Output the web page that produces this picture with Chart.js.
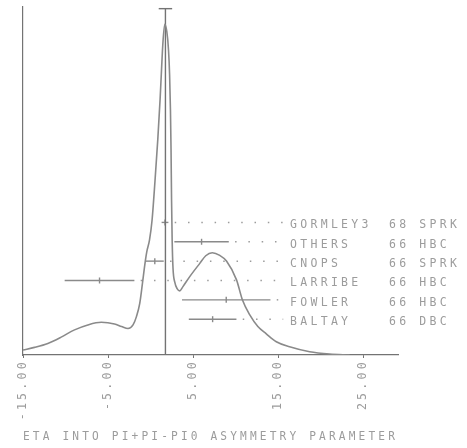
<!DOCTYPE html>
<html>
<head>
<meta charset="utf-8">
<script src="https://cdn.jsdelivr.net/npm/chart.js@4/dist/chart.umd.min.js"></script>
<style>
  html, body { margin: 0; padding: 0; background: #fff; }
  canvas { display: block; }
</style>
</head>
<body>
<canvas id="chart" width="467" height="448"></canvas>
<script>
// Ideogram curve: asymmetry parameter vs. relative height
const curveX = [-15.00, -13.65, -12.08, -10.51, -8.94, -7.38, -5.80, -4.24, -3.41, -2.65,
                -2.06, -1.66, -1.27, -0.95, -0.68, -0.45, -0.12, 0.18, 0.53, 0.85,
                1.12, 1.29, 1.44, 1.67, 1.91, 2.11, 2.24, 2.34, 2.41, 2.47,
                2.54, 2.64, 2.85, 3.14, 3.44, 3.79, 4.61, 5.79, 6.49, 7.26,
                8.14, 8.93, 10.11, 10.81, 11.67, 12.62, 13.61, 14.79, 16.35, 18.71, 21.06, 23.41];
const curveY = [0.015, 0.023, 0.035, 0.054, 0.076, 0.091, 0.099, 0.094, 0.086, 0.080,
                0.091, 0.116, 0.156, 0.217, 0.272, 0.311, 0.348, 0.408, 0.529, 0.651,
                0.772, 0.862, 0.938, 1.000, 0.978, 0.923, 0.847, 0.741, 0.620, 0.469,
                0.348, 0.263, 0.220, 0.200, 0.194, 0.206, 0.237, 0.277, 0.300, 0.309,
                0.301, 0.284, 0.227, 0.166, 0.121, 0.086, 0.064, 0.040, 0.025, 0.010, 0.003, 0.000];

// Individual measurements, top to bottom
const experiments = ['GORMLEY3', 'OTHERS', 'CNOPS', 'LARRIBE', 'FOWLER', 'BALTAY'];
const years       = ['68', '66', '66', '66', '66', '66'];
const detectors   = ['SPRK', 'HBC', 'SPRK', 'HBC', 'HBC', 'DBC'];
const values      = [1.7, 6.0, 0.5, -6.0, 8.9, 7.3];
const errors      = [0.4, 3.2, 1.05, 4.1, 5.2, 2.8];

// Weighted average
const average = 1.75;
const averageError = 0.79;

// Axis ticks
const tickValues = [-15, -5, 5, 15, 25];
const axisTitle = 'ETA INTO PI+PI-PI0 ASYMMETRY PARAMETER';

// ---- drawing ----
const INK = '#737373';
const LINE = '#8a8a8a';
const TEXT = '#9c9c9c';
const FONT_FAMILY = '"DejaVu Sans Mono", monospace';
const FONT_SIZE = 11.5;
const SPACING = '3.3px';
const AVG_TOP = 1.047;     // top of the average marker, in curve units
const LEADER_END = 15.6;   // where the dotted leaders stop
const NAME_AT = 16.4;      // text columns, in axis units
const YEAR_AT = 28.05;
const DET_AT = 31.6;

const rowOf = experiments.map((_, i) => experiments.length - i);

const datasets = [];

datasets.push({
  label: 'ideogram',
  data: curveX.map((x, i) => ({ x, y: curveY[i] })),
  borderColor: LINE,
  borderWidth: 1.6,
  pointRadius: 0,
  cubicInterpolationMode: 'monotone',
  yAxisID: 'y'
});

datasets.push({
  label: 'average',
  data: [{ x: average, y: 0 }, { x: average, y: AVG_TOP }],
  borderColor: INK,
  borderWidth: 1.4,
  pointRadius: 0,
  tension: 0,
  yAxisID: 'y'
});

datasets.push({
  label: 'average error',
  data: [{ x: average - averageError, y: AVG_TOP }, { x: average + averageError, y: AVG_TOP }],
  borderColor: INK,
  borderWidth: 1.4,
  pointRadius: 0,
  tension: 0,
  yAxisID: 'y'
});

experiments.forEach((name, i) => {
  const r = rowOf[i];
  const lo = values[i] - errors[i];
  const hi = values[i] + errors[i];
  datasets.push({
    label: name,
    data: [{ x: lo, y: r }, { x: values[i], y: r }, { x: hi, y: r }],
    borderColor: LINE,
    borderWidth: 1.4,
    pointRadius: [0, 3, 0],
    pointStyle: 'line',
    pointRotation: 90,
    pointBorderColor: LINE,
    pointBorderWidth: 1.4,
    tension: 0,
    yAxisID: 'yRows'
  });
  datasets.push({
    label: name + ' leader',
    data: [{ x: hi, y: r }, { x: LEADER_END, y: r }],
    borderColor: TEXT,
    borderWidth: 1.5,
    borderDash: [1.5, 11.8],
    borderDashOffset: 7,
    pointRadius: 0,
    tension: 0,
    yAxisID: 'yRows'
  });
});

const spacingPlugin = {
  id: 'letterSpacing',
  beforeDraw(chart) { chart.ctx.letterSpacing = SPACING; }
};

const rowLabels = {
  id: 'rowLabels',
  afterDatasetsDraw(chart) {
    const { ctx, scales } = chart;
    const x = scales.x, rows = scales.yRows;
    ctx.save();
    ctx.letterSpacing = SPACING;
    ctx.font = FONT_SIZE + 'px ' + FONT_FAMILY;
    ctx.fillStyle = TEXT;
    ctx.textAlign = 'left';
    ctx.textBaseline = 'alphabetic';
    experiments.forEach((name, i) => {
      const y = rows.getPixelForValue(rowOf[i]) + 6;
      ctx.fillText(name, x.getPixelForValue(NAME_AT), y);
      ctx.fillText(years[i], x.getPixelForValue(YEAR_AT), y);
      ctx.fillText(detectors[i], x.getPixelForValue(DET_AT), y);
    });
    ctx.restore();
  }
};

new Chart(document.getElementById('chart'), {
  type: 'line',
  data: { datasets },
  options: {
    responsive: false,
    devicePixelRatio: 1,
    animation: false,
    layout: { padding: { top: 7, right: 69, left: 0, bottom: 0 } },
    plugins: { legend: { display: false }, tooltip: { enabled: false } },
    scales: {
      x: {
        type: 'linear',
        min: -15,
        max: 29.1,
        afterBuildTicks(scale) { scale.ticks = tickValues.map(v => ({ value: v })); },
        afterFit(scale) { scale.height = 93; },
        ticks: {
          minRotation: 90,
          maxRotation: 90,
          padding: 1,
          color: TEXT,
          font: { family: FONT_FAMILY, size: FONT_SIZE },
          callback: v => Number(v).toFixed(2)
        },
        grid: { drawOnChartArea: false, drawTicks: true, tickLength: 3, color: INK },
        border: { display: true, color: INK, width: 1.2 },
        title: {
          display: true,
          text: axisTitle,
          color: TEXT,
          font: { family: FONT_FAMILY, size: 11.8 },
          padding: { top: 0, bottom: 4 }
        }
      },
      y: {
        type: 'linear',
        min: 0,
        max: 1.052,
        afterFit(scale) { scale.width = 23; },
        ticks: { display: false },
        grid: { display: false },
        border: { display: true, color: INK, width: 1.2 }
      },
      yRows: {
        type: 'linear',
        axis: 'y',
        display: false,
        min: -0.85,
        max: 17.13
      }
    }
  },
  plugins: [spacingPlugin, rowLabels]
});
</script>
</body>
</html>
